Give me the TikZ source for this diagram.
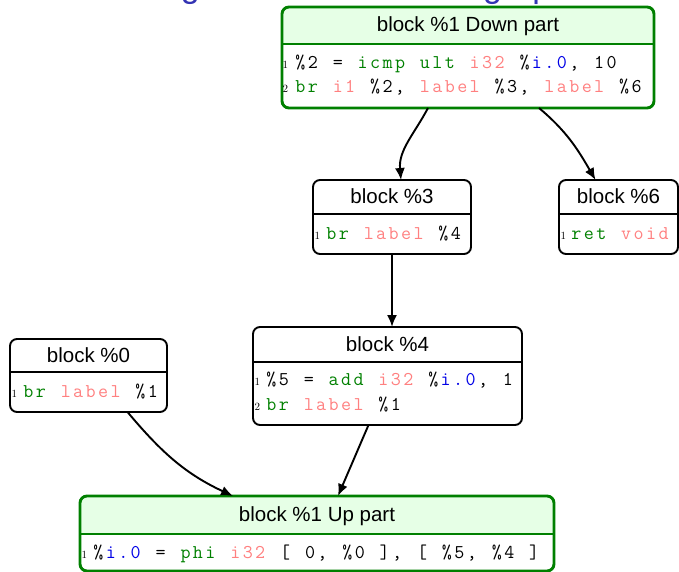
\documentclass[tikz,border=0pt]{standalone}
\usepackage{fontspec}
\setmainfont{Liberation Sans}
\setmonofont{Latin Modern Mono}
\newfontfamily\lnfont{Latin Modern Roman}
\usetikzlibrary{arrows.meta,fit}
\definecolor{kw}{RGB}{0,128,0}
\definecolor{ty}{RGB}{255,128,128}
\definecolor{vr}{RGB}{0,0,230}
\definecolor{hdrfill}{RGB}{230,255,230}
\definecolor{gborder}{RGB}{0,128,0}
\definecolor{ttlblue}{RGB}{51,51,179}
\newlength\codepitch \setlength\codepitch{12.45pt}
\ExplSyntaxOn
\NewDocumentCommand\codestr{m}{ \tl_map_inline:nn {#1} { \makebox[\codepitch][c]{##1} } }
\ExplSyntaxOff
\newcommand\cP[1]{\codestr{#1}}
\newcommand\cK[1]{{\color{kw}\codestr{#1}}}
\newcommand\cT[1]{{\color{ty}\codestr{#1}}}
\newcommand\cV[1]{{\color{vr}\codestr{#1}}}
% name, x1, y1, x2, y2, ysep, border style, header fill
\newcommand\cfgblock[8]{%
  \node[fit={(#2,-#3) (#4,-#5)}, inner sep=0pt, outer sep=0pt] (#1) {};
  \begin{scope}
    \clip[rounded corners=7pt] (#1.south west) rectangle (#1.north east);
    \fill[#8] (#1.north west) rectangle (#4,-#6);
  \end{scope}
  \draw[#7] (#1.south west) rectangle (#1.north east);
  \draw[#7, sharp corners] (#2,-#6) -- (#4,-#6);
}
\begin{document}
\begin{tikzpicture}[x=1pt,y=1pt,
  bblock/.style={draw=black, line width=1.9pt, rounded corners=7pt},
  gblock/.style={draw=gborder, line width=2.9pt, rounded corners=7pt},
  hdr/.style={font=\fontsize{20.5}{22}\selectfont, inner sep=0pt, anchor=base},
  codeln/.style={font=\fontsize{19.5}{21}\ttfamily, inner sep=0pt, anchor=base west},
  lnum/.style={font=\lnfont\fontsize{11}{12}\selectfont, inner sep=0pt, anchor=base west},
  flow/.style={-{Latex[length=12pt,width=10pt]}, line width=1.9pt},
  ttl/.style={font=\fontsize{34}{36}\selectfont, text=ttlblue, inner sep=0pt, anchor=base west}]
\useasboundingbox (0,0) rectangle (679,-572);

\node[ttl] (title) at (80.5,2) {Looking at the whole CFG graph};

% block %1 Down part
\cfgblock{dn}{282}{7}{654}{108}{44}{gblock}{hdrfill}
\node[hdr] (dnt) at (468,-32) {block \%1 Down part};
\node[lnum] (dnn1) at (282.5,-69) {1};
\node[codeln] (dnl1) at (294,-69) {\cP{\%2~=~}\cK{icmp~ult}\cP{~}\cT{i32}\cP{~\%}\cV{i.0}\cP{,~10}};
\node[lnum] (dnn2) at (282.5,-93) {2};
\node[codeln] (dnl2) at (294,-93) {\cK{br}\cP{~}\cT{i1}\cP{~\%2,~}\cT{label}\cP{~\%3,~}\cT{label}\cP{~\%6}};

% block %3
\cfgblock{b3}{313}{180}{471}{254}{214}{bblock}{white}
\node[hdr] (b3t) at (392,-203) {block \%3};
\node[lnum] (b3n1) at (314.5,-239) {1};
\node[codeln] (b3l1) at (325,-239) {\cK{br}\cP{~}\cT{label}\cP{~\%4}};

% block %6
\cfgblock{b6}{559}{180}{678}{254}{214}{bblock}{white}
\node[hdr] (b6t) at (618.5,-203) {block \%6};
\node[lnum] (b6n1) at (560.5,-239) {1};
\node[codeln] (b6l1) at (570,-239) {\cK{ret}\cP{~}\cT{void}};

% block %4
\cfgblock{b4}{253}{327}{522}{425}{362}{bblock}{white}
\node[hdr] (b4t) at (387.5,-351) {block \%4};
\node[lnum] (b4n1) at (254.5,-385) {1};
\node[codeln] (b4l1) at (265,-385) {\cP{\%5~=~}\cK{add}\cP{~}\cT{i32}\cP{~\%}\cV{i.0}\cP{,~1}};
\node[lnum] (b4n2) at (254.5,-410) {2};
\node[codeln] (b4l2) at (265,-410) {\cK{br}\cP{~}\cT{label}\cP{~\%1}};

% block %0
\cfgblock{b0}{10}{339}{167}{412}{372}{bblock}{white}
\node[hdr] (b0t) at (88.5,-362) {block \%0};
\node[lnum] (b0n1) at (11.5,-397) {1};
\node[codeln] (b0l1) at (22,-397) {\cK{br}\cP{~}\cT{label}\cP{~\%1}};

% block %1 Up part
\cfgblock{up}{80}{496}{554}{571}{534}{gblock}{hdrfill}
\node[hdr] (upt) at (317,-521) {block \%1 Up part};
\node[lnum] (upn1) at (81.5,-558) {1};
\node[codeln] (upl1) at (92,-558) {\cP{\%}\cV{i.0}\cP{~=~}\cK{phi}\cP{~}\cT{i32}\cP{~[~0,~\%0~],~[~\%5,~\%4~]}};

% edges
\draw[flow] ([xshift=-40pt]dn.south) to[out=-118,in=95] ([xshift=9pt]b3.north);
\draw[flow] ([xshift=71pt]dn.south) to[out=-40,in=120] ([xshift=-23pt]b6.north);
\draw[flow] (b3.south) -- (b3.south |- b4.north);
\draw[flow] ([xshift=39pt]b0.south) to[out=-50,in=155] ([xshift=-84pt]up.north);
\draw[flow] ([xshift=-19pt]b4.south) -- ([xshift=21pt]up.north);
\end{tikzpicture}
\end{document}
